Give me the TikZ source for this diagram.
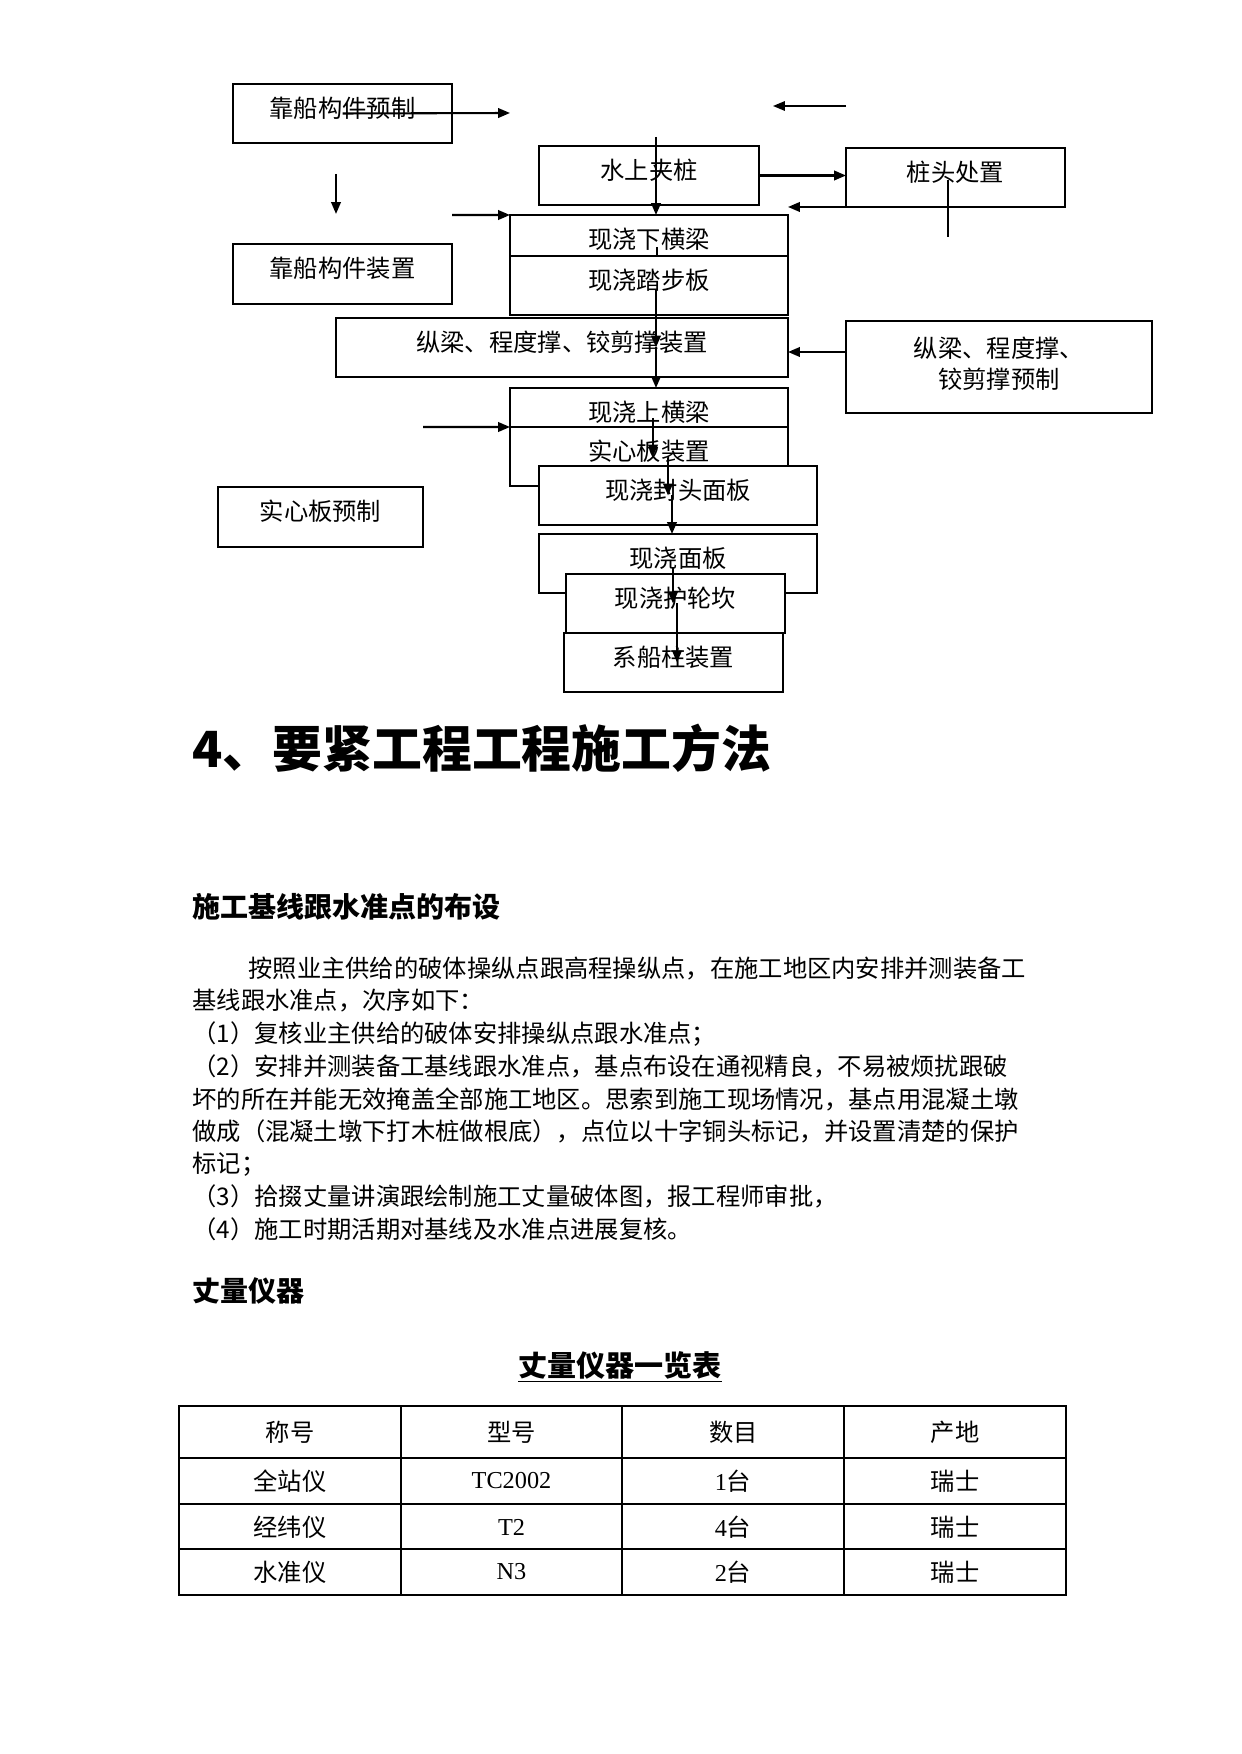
\documentclass[tikz,border=0pt]{standalone}
\usepackage{fontspec}
\setmainfont{Noto Sans CJK SC}
\newfontfamily\latin{Liberation Serif}
\usetikzlibrary{arrows.meta}
\newcommand{\bodysize}{\fontsize{11.7pt}{15pt}\selectfont}
\newcommand{\headsize}{\fontsize{13.5pt}{16pt}\selectfont\bfseries}
\newcommand{\tabtitlesize}{\fontsize{14pt}{17pt}\selectfont\bfseries}
\newcommand{\titlesize}{\fontsize{24pt}{28pt}\selectfont\bfseries}
\tikzset{
  boxbase/.style={draw=black, line width=0.7pt, fill=white, inner sep=0pt, outer sep=0pt, font=\bodysize},
  box/.style={boxbase, text height=5.75mm, text depth=4.23mm, minimum width=#1},
  box/.default=37.06mm,
  arrow/.style={-{Triangle[length=2mm,width=1.6mm]}, line width=1pt},
  thinarrow/.style={arrow, line width=0.7pt},
  link/.style={line width=0.9pt},
  para/.style={anchor=west, inner sep=0pt, font=\bodysize},
  heading/.style={anchor=west, inner sep=0pt, font=\headsize},
  cell/.style={inner sep=0pt, font=\bodysize},
  tableline/.style={line width=0.5pt},
  tableframe/.style={line width=0.9pt}
}

\begin{document}
\begin{tikzpicture}[x=0.16922mm,y=-0.16922mm]
\useasboundingbox (0,0) rectangle (1241,1754);
% flow chart boxes
\node[box] (kcyz) at (342.5,113.5) {靠船构件预制};
\node[box, text depth=4.4mm] (kczz) at (342.5,274) {靠船构件装置};
\node[box=37.23mm] (sszz) at (649,175.5) {水上夹桩};
\node[box] (ztcz) at (955.5,177.5) {桩头处置};
\node[box=47.04mm, text depth=1.18mm] (xhl) at (649,235.5) {现浇下横梁};
\node[box=47.04mm] (tbb) at (649,285.5) {现浇踏步板};
\node[box=76.49mm] (zlzz) at (562,347.5) {纵梁、程度撑、铰剪撑装置};
\node[boxbase, minimum width=51.78mm, minimum height=15.57mm] (zlyz) at (999,367) {\begin{tabular}{@{}c@{}}纵梁、程度撑、\\铰剪撑预制\end{tabular}};
\node[box=47.04mm, text depth=0.85mm] (shl) at (649,407.5) {现浇上横梁};
\node[box=47.04mm] (sxb) at (649,456.5) {实心板装置};
\node[box=47.04mm] (fhmb) at (678,495.5) {现浇封头面板};
\node[box=34.69mm, text depth=4.4mm] (sxyz) at (320.5,517) {实心板预制};
\node[box=47.04mm] (xmb) at (678,563.5) {现浇面板};
\node[box] (hlk) at (675.5,603.5) {现浇护轮坎};
\node[box] (xcz) at (673.5,662.5) {系船柱装置};

% free ends
\coordinate (c1) at (510,113);
\coordinate (t1) at (846,106);
\coordinate (t2) at (773,106);
\coordinate (d1) at (336,174);
\coordinate (d2) at (336,214);
\coordinate (e1) at (452,215);
\coordinate (v1) at (948,180);
\coordinate (v2) at (948,237);
\coordinate (q1) at (846,352);
\coordinate (r1) at (423,427);
\coordinate (p0) at (656,137);
\coordinate (p1) at (657,247);
\coordinate (p2) at (656,290);
\coordinate (p3) at (653,418);
\coordinate (p4) at (668,458);
\coordinate (p5) at (672,495);
\coordinate (p6) at (673,567);
\coordinate (p7) at (677,603);

% connectors
\draw[arrow] (kcyz.center) -- (c1);
\draw[thinarrow] (t1) -- (t2);
\draw[arrow] (d1) -- (d2);
\draw[arrow] (e1) -- (xhl.north west);
\draw[arrow] (sszz.east) -- (sszz.east -| ztcz.west);
\draw[arrow] (ztcz.south west) -- (ztcz.south west -| xhl.east);
\draw[link] (v1) -- (v2);
\draw[arrow] (p0) -- (p0 |- xhl.north);
\draw[link] (p1) -- (p1 |- xhl.south);
\draw[arrow] (p2) -- (p2 |- zlzz.center);
\draw[arrow] (p2 |- zlzz.center) -- (p2 |- shl.north);
\draw[arrow] (q1) -- (q1 -| zlzz.east);
\draw[arrow] (r1) -- (shl.south west);
\draw[arrow] (p3) -- (p3 |- sxb.center);
\draw[arrow] (p4) -- (p4 |- fhmb.center);
\draw[arrow] (p5) -- (p5 |- xmb.north);
\draw[arrow] (p6) -- (p6 |- hlk.center);
\draw[arrow] (p7) -- (p7 |- xcz.center);

% text
\node[anchor=west, inner sep=0pt, font=\titlesize] (title) at (192,748) {4、要紧工程工程施工方法};
\node[heading] (sec1) at (192,907) {施工基线跟水准点的布设};
\node[para] (l1) at (248,969) {按照业主供给的破体操纵点跟高程操纵点，在施工地区内安排并测装备工};
\node[para] (l2) at (192,1001) {基线跟水准点，次序如下：};
\node[para] (l3) at (192,1034) {（1）复核业主供给的破体安排操纵点跟水准点；};
\node[para] (l4) at (192,1066) {（2）安排并测装备工基线跟水准点，基点布设在通视精良，不易被烦扰跟破};
\node[para] (l5) at (192,1099) {坏的所在并能无效掩盖全部施工地区。思索到施工现场情况，基点用混凝土墩};
\node[para] (l6) at (192,1131) {做成（混凝土墩下打木桩做根底），点位以十字铜头标记，并设置清楚的保护};
\node[para] (l7) at (192,1164) {标记；};
\node[para] (l8) at (192,1196) {（3）拾掇丈量讲演跟绘制施工丈量破体图，报工程师审批，};
\node[para] (l9) at (192,1229) {（4）施工时期活期对基线及水准点进展复核。};
\node[heading] (sec2) at (192,1291) {丈量仪器};
\node[cell, font=\tabtitlesize] (tabtitle) at (620,1367) {\underline{丈量仪器一览表}};

% table
\foreach \x in {401,622,844} {\draw[tableline] (\x,1406) -- (\x,1595);}
\foreach \y in {1458,1504,1549} {\draw[tableline] (179,\y) -- (1066,\y);}
\draw[tableframe] (179,1406) rectangle (1066,1595);
\draw[line width=1.1pt] (179,1406) -- (1066,1406);
\foreach \t [count=\i] in {称号,型号,数目,产地}
  {\node[cell] (h\i) at (290+221.7*\i-221.7,1432) {\t};}
\foreach \r/\y/\a/\b/\c in {1/1481/全站仪/TC2002/1, 2/1527/经纬仪/T2/4, 3/1572/水准仪/N3/2} {
  \node[cell] (r\r-1) at (290,\y) {\a};
  \node[cell] (r\r-2) at (511.5,\y) {{\latin \b}};
  \node[cell] (r\r-3) at (733,\y) {{\latin \c}台};
  \node[cell] (r\r-4) at (955,\y) {瑞士};
}
\end{tikzpicture}
\end{document}
